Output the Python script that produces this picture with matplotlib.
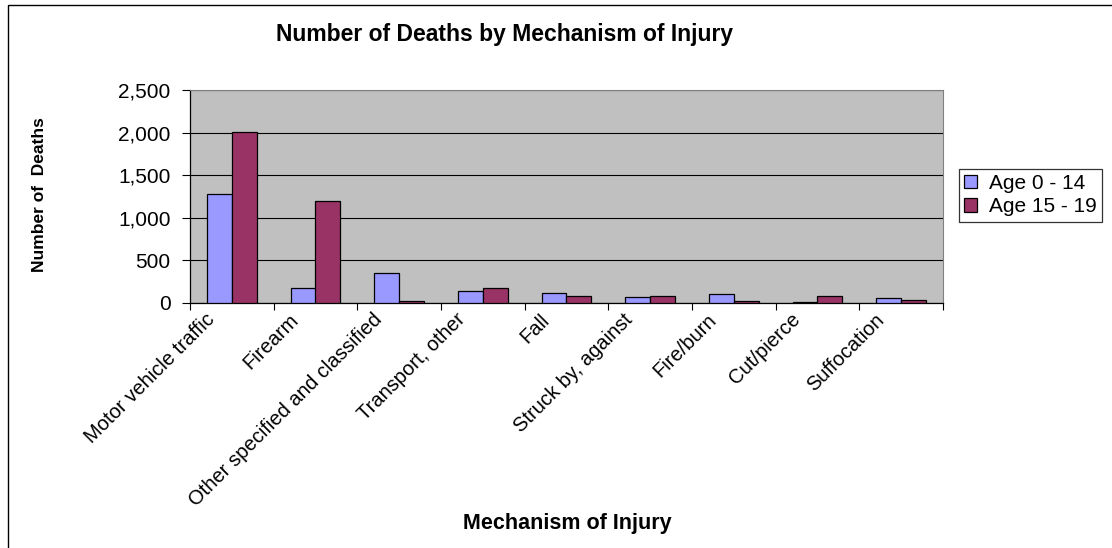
import matplotlib

matplotlib.use("Agg")
import matplotlib.pyplot as plt
import matplotlib.transforms as mtransforms
import numpy as np
from matplotlib.patches import Rectangle
from matplotlib.ticker import FuncFormatter, FixedLocator, NullFormatter

categories = [
    "Motor vehicle traffic", "Firearm", "Other specified and classified",
    "Transport, other", "Fall", "Struck by, against", "Fire/burn",
    "Cut/pierce", "Suffocation",
]
age_0_14 = [1285, 171, 347, 136, 117, 66, 109, 16, 54]
age_15_19 = [2005, 1195, 27, 171, 78, 78, 27, 78, 39]
series_names = ["Age 0 - 14", "Age 15 - 19"]

plt.rcParams["font.family"] = ["Liberation Sans", "DejaVu Sans"]

W, H = 1112, 548
fig = plt.figure(figsize=(W / 100, H / 100), dpi=100)
fig.patch.set_facecolor("white")

# outer chart border (right/bottom run off the picture)
fig.add_artist(Rectangle((8 / W, -0.05), 1.2, (H - 5) / H + 0.05,
                         transform=fig.transFigure, fill=False,
                         edgecolor="black", linewidth=1.0))

left, right, top, bottom = 190, 943, 90, 303
ax = fig.add_axes([left / W, 1 - bottom / H, (right - left) / W, (bottom - top) / H])
ax.set_facecolor("#C0C0C0")

x = np.arange(len(categories))
bw = 0.295
ax.bar(x - bw / 2, age_0_14, bw, color="#9999FF", edgecolor="black",
       linewidth=0.9, label=series_names[0], zorder=3)
ax.bar(x + bw / 2, age_15_19, bw, color="#993366", edgecolor="black",
       linewidth=0.9, label=series_names[1], zorder=3)

ax.set_xlim(-0.5, len(categories) - 0.5)
ax.set_ylim(0, 2500)
ax.set_yticks(np.arange(0, 2501, 500))
ax.yaxis.set_major_formatter(FuncFormatter(lambda v, p: f"{int(v):,}"))
ax.grid(axis="y", color="black", linewidth=0.8, zorder=1)
ax.set_axisbelow(True)

# ticks sit between categories; labels are drawn at the category centres
ax.xaxis.set_major_locator(FixedLocator(np.arange(-0.5, len(categories), 1.0)))
ax.xaxis.set_major_formatter(NullFormatter())
shift = mtransforms.ScaledTranslation(-0.27, -0.07, fig.dpi_scale_trans)
for i, name in enumerate(categories):
    ax.text(x[i], 0, name, transform=ax.get_xaxis_transform() + shift,
            rotation=45, ha="right", va="top", rotation_mode="anchor",
            fontsize=14.5)
ax.tick_params(axis="x", which="major", length=5, width=0.8, direction="out")
ax.tick_params(axis="y", length=6, width=0.8, direction="out", labelsize=15, pad=8)

for side in ("top", "right"):
    ax.spines[side].set_color("#808080")
for side in ("left", "bottom"):
    ax.spines[side].set_color("black")
    ax.spines[side].set_linewidth(0.9)

fig.text(505 / W, 1 - 35 / H, "Number of Deaths by Mechanism of Injury",
         ha="center", va="center", fontsize=16.5, fontweight="bold")
fig.text(40 / W, 1 - 195 / H, "Number of  Deaths", rotation=90,
         ha="center", va="center", fontsize=12.5, fontweight="bold")
fig.text(567 / W, 1 - 523 / H, "Mechanism of Injury",
         ha="center", va="center", fontsize=15.5, fontweight="bold")

leg = ax.legend(loc="upper left", bbox_to_anchor=(959 / W, 1 - 169 / H),
                bbox_transform=fig.transFigure, fontsize=15, frameon=True,
                fancybox=False, borderpad=0.25, handlelength=0.6,
                handleheight=0.6, handletextpad=0.6, labelspacing=0.2,
                borderaxespad=0)
leg.get_frame().set_edgecolor("black")
leg.get_frame().set_linewidth(0.9)

fig.savefig("out.png", dpi=100)
